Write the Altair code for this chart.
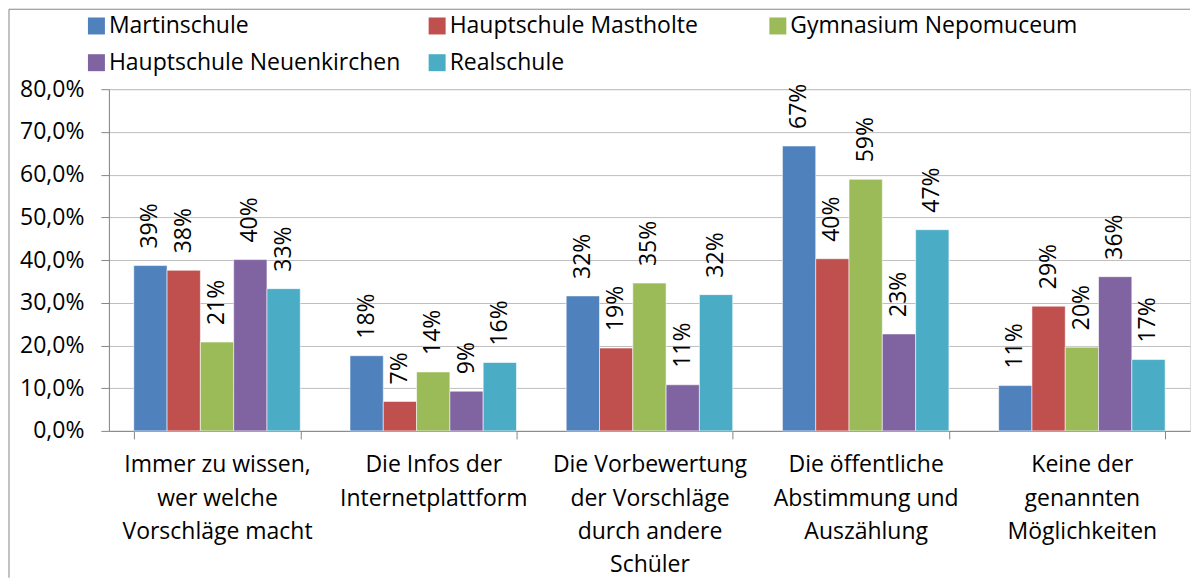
import altair as alt
import pandas as pd

categories = [
    "Immer zu wissen,|wer welche|Vorschläge macht",
    "Die Infos der|Internetplattform",
    "Die Vorbewertung|der Vorschläge|durch andere|Schüler",
    "Die öffentliche|Abstimmung und|Auszählung",
    "Keine der|genannten|Möglichkeiten",
]
schools = ["Martinschule", "Hauptschule Mastholte", "Gymnasium Nepomuceum",
           "Hauptschule Neuenkirchen", "Realschule"]
martinschule = [0.387, 0.176, 0.316, 0.667, 0.106]
mastholte = [0.376, 0.069, 0.194, 0.403, 0.292]
gymnasium = [0.208, 0.138, 0.346, 0.589, 0.196]
neuenkirchen = [0.401, 0.093, 0.108, 0.227, 0.361]
realschule = [0.333, 0.160, 0.319, 0.471, 0.167]
colors = ["#4F81BD", "#C0504D", "#9BBB59", "#8064A2", "#4BACC6"]
y_ticks = [0.0, 0.1, 0.2, 0.3, 0.4, 0.5, 0.6, 0.7, 0.8]

series = [martinschule, mastholte, gymnasium, neuenkirchen, realschule]
rows = []
for s, vals in zip(schools, series):
    for c, v in zip(categories, vals):
        rows.append({"cat": c, "school": s, "value": v})
df = pd.DataFrame(rows)

FONT = "Open Sans"
FS = 23
W, H = 1082, 342

x = alt.X("cat:N", sort=categories,
          scale=alt.Scale(paddingInner=0.23, paddingOuter=0.115),
          axis=alt.Axis(title=None, labelAngle=0, tickBand="extent", tickSize=8,
                        labelExpr="split(datum.label, '|')", labelLineHeight=33.3,
                        labelPadding=15, labelFont=FONT, labelFontSize=FS,
                        labelColor="black", domainColor="#868686", tickColor="#868686",
                        grid=False, labelLimit=400))
xo = alt.XOffset("school:N", sort=schools, scale=alt.Scale(paddingInner=0, paddingOuter=0))
y = alt.Y("value:Q", scale=alt.Scale(domain=[0, 0.8]),
          axis=alt.Axis(title=None, values=y_ticks, tickSize=8, labelPadding=17,
                        labelExpr="replace(format(datum.value, '.1%'), '.', ',')",
                        labelFont=FONT, labelFontSize=FS, labelColor="black",
                        domainColor="#868686", tickColor="#868686",
                        gridColor="#BFBFBF", grid=True))

bars = alt.Chart(df).mark_bar(stroke="white", strokeWidth=0.8, strokeOpacity=0.7).encode(
    x=x, xOffset=xo, y=y,
    color=alt.Color("school:N", sort=schools,
                    scale=alt.Scale(domain=schools, range=colors),
                    legend=alt.Legend(title=None, orient="none", legendX=-24, legendY=-75,
                                      direction="horizontal", columns=3, gridAlign="all",
                                      columnPadding=25, rowPadding=13, padding=0,
                                      symbolType="square", symbolSize=289,
                                      symbolStrokeWidth=0, labelFont=FONT,
                                      labelFontSize=FS, labelColor="black",
                                      labelLimit=500, labelOffset=1)),
)

labels = alt.Chart(df).mark_text(angle=270, align="left", baseline="middle", dx=17,
                                 font=FONT, fontSize=FS, color="black").encode(
    x=x, xOffset=xo, y=y,
    text=alt.Text("value:Q", format=".0%"),
)

frame_df = pd.DataFrame({"a": [0]})
frame_left = alt.Chart(frame_df).mark_rule(color="#868686", strokeWidth=1).encode(
    x=alt.value(-100), y=alt.value(-80), y2=alt.value(489))
frame_top = alt.Chart(frame_df).mark_rule(color="#868686", strokeWidth=1).encode(
    x=alt.value(-100), x2=alt.value(W), y=alt.value(-80))

chart = alt.layer(frame_left, frame_top, bars, labels).properties(
    width=W, height=H, padding={"left": 0, "top": 0, "right": 0, "bottom": 0}
).configure_view(strokeWidth=0).configure(font=FONT)

chart.save("out.html", embed_options={"renderer": "svg", "actions": False})
